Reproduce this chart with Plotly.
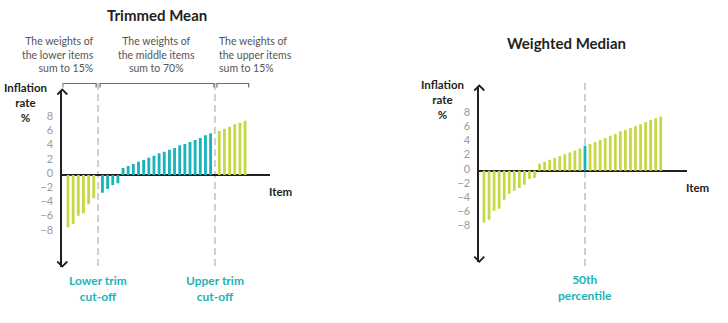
import plotly.graph_objects as go

# ---------------- data (inflation rate, %, items sorted by rate) ----------------
# Trimmed Mean panel
tm_lower_green = [-7.37, -6.90, -5.73, -5.39, -4.13, -3.28]
tm_middle_teal = [-2.49, -1.97, -1.41, -1.17,
                  0.99, 1.27, 1.55, 1.88, 2.11, 2.44, 2.72, 3.05, 3.28, 3.57,
                  3.80, 4.18, 4.37, 4.65, 4.93, 5.21, 5.59, 5.87]
tm_upper_green = [6.24, 6.52, 6.80, 7.14, 7.37, 7.65]

# Weighted Median panel
wm_values = [-7.28, -6.90, -5.63, -5.35, -4.08, -3.24, -2.82, -2.44, -1.97, -1.17, -1.03,
             0.99, 1.27, 1.55, 1.78, 2.02, 2.30, 2.58, 2.86, 3.14, 3.50,
             3.76, 4.04, 4.32, 4.60, 4.93, 5.17, 5.54, 5.77, 6.01, 6.25, 6.53,
             6.86, 7.14, 7.38, 7.61]
wm_median_index = 20

y_ticks = [-8, -6, -4, -2, 0, 2, 4, 6, 8]

titles = ["Trimmed Mean", "Weighted Median"]
top_notes = ["The weights of<br>the lower items<br>sum to 15%",
             "The weights of<br>the middle items<br>sum to 70%",
             "The weights of<br>the upper items<br>sum to 15%"]
cut_labels = ["Lower trim<br>cut-off", "Upper trim<br>cut-off", "50th<br>percentile"]
y_title = "Inflation<br>rate<br>%"
x_title = "Item"

# ---------------- styling / layout ----------------
W, H = 728, 323
GREEN = "#c6d846"
TEAL = "#19b4b9"
DARK = "#231f20"
GREY_TXT = "#555555"
TICK_GREY = "#9a9a9a"
DASH_GREY = "#cfcfcf"
FONT = "Lato"
BAR_W = 0.55
Y_SCALE = 7.1      # px per % point
GROUP_GAP = 1.69   # slot distance across the trim cut-offs


def fx(px):
    return px / W


def fy(py):
    return 1 - py / H


# left panel geometry (pixels)
L = dict(ax=62.3, end=270.0, x0=68.0, step=5.15, zero=175.0, top=89.5, bot=266.5)
# right panel geometry (pixels)
R = dict(ax=479.3, end=686.7, x0=484.0, step=5.05, zero=170.7, top=85.5, bot=261.7)

# x positions for the trimmed-mean bars
x_low = [float(i) for i in range(len(tm_lower_green))]
x_mid_start = x_low[-1] + GROUP_GAP
x_mid = [x_mid_start + i for i in range(len(tm_middle_teal))]
x_up_start = x_mid[-1] + GROUP_GAP
x_up = [x_up_start + i for i in range(len(tm_upper_green))]
cut_lower = (x_low[-1] + x_mid[0]) / 2
cut_upper = (x_mid[-1] + x_up[0]) / 2

x_wm = list(range(len(wm_values)))
wm_green_x = [x for x in x_wm if x != wm_median_index]
wm_green_y = [v for i, v in enumerate(wm_values) if i != wm_median_index]

fig = go.Figure()
common = dict(width=BAR_W, hoverinfo="skip", showlegend=False, marker_line_width=0)
fig.add_trace(go.Bar(x=x_low + x_up, y=tm_lower_green + tm_upper_green,
                     marker_color=GREEN, xaxis="x", yaxis="y", **common))
fig.add_trace(go.Bar(x=x_mid, y=tm_middle_teal,
                     marker_color=TEAL, xaxis="x", yaxis="y", **common))
fig.add_trace(go.Bar(x=wm_green_x, y=wm_green_y,
                     marker_color=GREEN, xaxis="x2", yaxis="y2", **common))
fig.add_trace(go.Bar(x=[wm_median_index], y=[wm_values[wm_median_index]],
                     marker_color=TEAL, xaxis="x2", yaxis="y2", **common))


def xaxis_cfg(g):
    return dict(domain=[fx(g["ax"]), fx(g["end"])],
                range=[(g["ax"] - g["x0"]) / g["step"], (g["end"] - g["x0"]) / g["step"]],
                showticklabels=False, showgrid=False, zeroline=False, showline=False,
                fixedrange=True)


def yaxis_cfg(g, anchor):
    return dict(domain=[fy(g["bot"]), fy(g["top"])],
                range=[-(g["bot"] - g["zero"]) / Y_SCALE, (g["zero"] - g["top"]) / Y_SCALE],
                anchor=anchor, tickvals=y_ticks, showgrid=False,
                zeroline=True, zerolinecolor=DARK, zerolinewidth=1.8,
                showline=True, linecolor=DARK, linewidth=1.8,
                ticks="", ticklabelstandoff=5, ticklabelshift=-2,
                tickfont=dict(family=FONT, size=11, color=TICK_GREY),
                fixedrange=True)


fig.update_layout(
    width=W, height=H, margin=dict(l=0, r=0, t=0, b=0),
    paper_bgcolor="white", plot_bgcolor="white",
    barmode="overlay", showlegend=False,
    xaxis=dict(**xaxis_cfg(L), anchor="y"),
    yaxis=yaxis_cfg(L, "x"),
    xaxis2=dict(**xaxis_cfg(R), anchor="y2"),
    yaxis2=yaxis_cfg(R, "x2"),
)

shapes = []
# arrow heads on y axes
for xr, yr in (("x domain", "y domain"), ("x2 domain", "y2 domain")):
    shapes.append(dict(type="path", xref=xr, yref=yr, xsizemode="pixel", ysizemode="pixel",
                       xanchor=0, yanchor=1, path="M -5,-5 L 0,0 L 5,-5",
                       line=dict(color=DARK, width=1.8)))
    shapes.append(dict(type="path", xref=xr, yref=yr, xsizemode="pixel", ysizemode="pixel",
                       xanchor=0, yanchor=0, path="M -5,5 L 0,0 L 5,5",
                       line=dict(color=DARK, width=1.8)))

# dashed cut-off lines
dash_style = dict(color=DASH_GREY, width=2, dash="7px,4px")
for xv in (cut_lower, cut_upper):
    shapes.append(dict(type="line", xref="x", yref="paper", x0=xv, x1=xv,
                       y0=fy(83), y1=fy(269), line=dash_style, layer="below"))
shapes.append(dict(type="line", xref="x2", yref="paper", x0=wm_median_index, x1=wm_median_index,
                   y0=fy(83), y1=fy(268), line=dash_style, layer="below"))

# brackets above the trimmed-mean panel
br_y, br_tick = fy(83.5), fy(87.5)
pad = 0.38
x_first = (L["ax"] - L["x0"]) / L["step"] + 0.1
for a, b in ((x_first, cut_lower - pad), (cut_lower + pad, cut_upper - 0.2), (cut_upper + pad, x_up[-1] + 0.7)):
    shapes.append(dict(type="path", xref="x", yref="paper",
                       path=f"M {a},{br_tick} L {a},{br_y} L {b},{br_y} L {b},{br_tick}",
                       line=dict(color="#6d6d6d", width=1.2)))

fig.update_layout(shapes=shapes)


def label(text, x, y, xref="paper", xanchor="center", font=None, align="center", xshift=0):
    return dict(text=text, x=x, y=y, xref=xref, yref="paper", xanchor=xanchor,
                yanchor="middle", align=align, xshift=xshift, showarrow=False, font=font)


ann = []
title_font = dict(family=FONT, size=15, color=DARK)
ann.append(label(f"<b>{titles[0]}</b>", fx(157), fy(15), font=title_font))
ann.append(label(f"<b>{titles[1]}</b>", fx(566), fy(43), font=title_font))

note_font = dict(family=FONT, size=10.5, color=GREY_TXT)
ann.append(label(top_notes[0], cut_lower, fy(54.3), xref="x", xanchor="right",
                 align="right", xshift=-2, font=note_font))
ann.append(label(top_notes[1], (cut_lower + cut_upper) / 2, fy(54.3), xref="x",
                 font=note_font))
ann.append(label(top_notes[2], cut_upper, fy(54.3), xref="x", xanchor="left",
                 align="left", xshift=2, font=note_font))

ytitle_font = dict(family=FONT, size=11.5, color=DARK)
ann.append(label(f"<b>{y_title}</b>", fx(25), fy(102.5), font=ytitle_font))
ann.append(label(f"<b>{y_title}</b>", fx(442.7), fy(99), font=ytitle_font))
ann.append(label(f"<b>{x_title}</b>", fx(280.5), fy(191.7), font=ytitle_font))
ann.append(label(f"<b>{x_title}</b>", fx(697.5), fy(187.3), font=ytitle_font))

cut_font = dict(family=FONT, size=12, color=TEAL)
ann.append(label(f"<b>{cut_labels[0]}</b>", cut_lower, fy(288), xref="x", font=cut_font))
ann.append(label(f"<b>{cut_labels[1]}</b>", cut_upper, fy(288), xref="x", font=cut_font))
ann.append(label(f"<b>{cut_labels[2]}</b>", wm_median_index, fy(287.5), xref="x2", font=cut_font))

fig.update_layout(annotations=ann)

fig.write_html("out.html")
